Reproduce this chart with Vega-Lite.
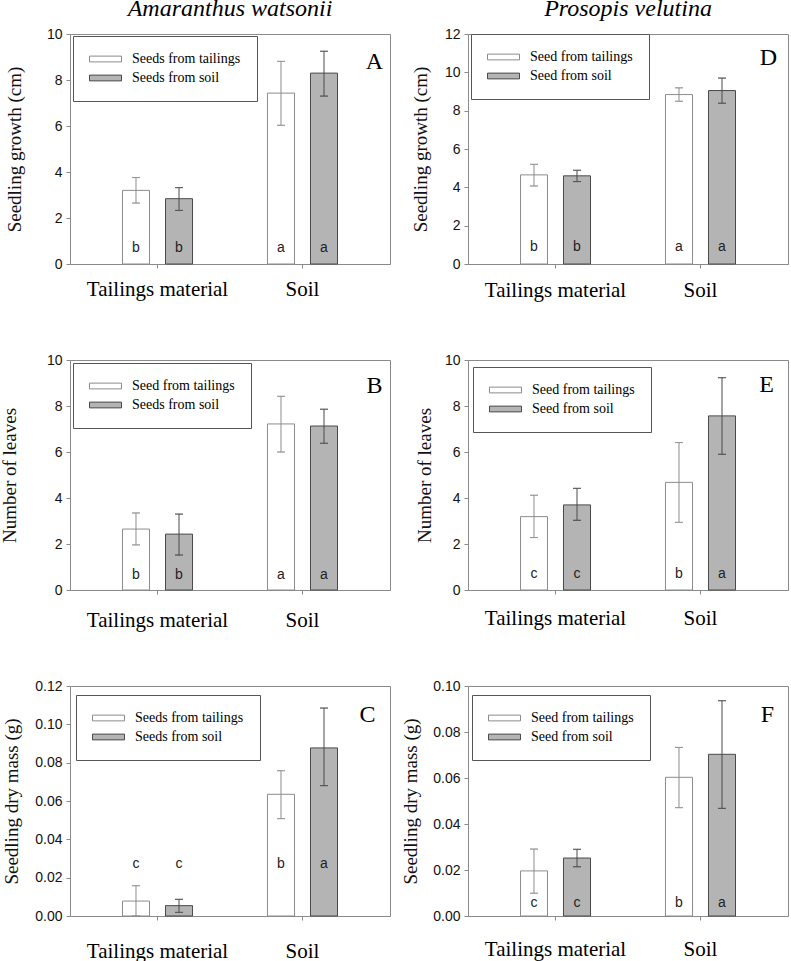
{
  "$schema": "https://vega.github.io/schema/vega-lite/v6.json",
  "background": "white",
  "padding": {"left": -1, "top": -4, "right": 0, "bottom": 0},
  "columns": 2,
  "spacing": {"row": 96, "column": 78},
  "bounds": "flush",
  "resolve": {
    "scale": {"x": "independent", "y": "independent", "xOffset": "independent", "fill": "independent", "stroke": "independent"},
    "legend": {"fill": "independent", "stroke": "independent"}
  },
  "config": {
    "view": {"stroke": "#8a8a8a", "strokeWidth": 1},
    "axis": {"domainColor": "#8a8a8a", "tickColor": "#8a8a8a", "tickSize": 4, "grid": false, "labelColor": "#111", "titleColor": "#111", "labelOverlap": false},
    "font": "Liberation Sans",
    "legend": {
      "orient": "none", "title": null, "strokeColor": "#555", "fillColor": "white", "padding": 16,
      "symbolType": "M-1,-0.18H1V0.18H-1Z", "symbolSize": 1024, "symbolStrokeColor": "#444", "symbolStrokeWidth": 1,
      "labelFont": "Liberation Serif", "labelFontSize": 14, "labelColor": "black", "labelOffset": 10, "rowPadding": 5, "labelLimit": 300, "clipHeight": 14
    }
  },
  "concat": [
    {
      "width": 320, "height": 230,
      "title": {"text": "Amaranthus watsonii", "font": "Liberation Serif", "fontStyle": "italic", "fontSize": 24, "fontWeight": "normal", "color": "black", "anchor": "middle", "frame": "group", "baseline": "alphabetic", "offset": -13},
      "data": {"values": [
        {"group": "Tailings material", "source": "Seeds from tailings", "mean": 3.20, "lo": 2.65, "hi": 3.76, "letter": "b"},
        {"group": "Tailings material", "source": "Seeds from soil", "mean": 2.84, "lo": 2.33, "hi": 3.32, "letter": "b"},
        {"group": "Soil", "source": "Seeds from tailings", "mean": 7.43, "lo": 6.03, "hi": 8.81, "letter": "a"},
        {"group": "Soil", "source": "Seeds from soil", "mean": 8.30, "lo": 7.30, "hi": 9.25, "letter": "a"}
      ]},
      "encoding": {
        "x": {"field": "group", "type": "nominal", "scale": {"domain": ["Tailings material", "Soil"], "paddingInner": 0.517, "paddingOuter": 0.362},
              "axis": {"title": null, "labelAngle": 0, "labelFont": "Liberation Serif", "labelFontSize": 21, "labelColor": "black", "labelBaseline": "alphabetic", "labelPadding": 27}}
      },
      "layer": [
        {"mark": {"type": "bar", "strokeWidth": 1},
         "encoding": {
           "xOffset": {"field": "source", "type": "nominal", "scale": {"domain": ["Seeds from tailings", "Seeds from soil"], "paddingInner": 0.372, "paddingOuter": 0}},
           "y": {"field": "mean", "type": "quantitative", "scale": {"domain": [0, 10], "nice": false},
                 "axis": {"title": "Seedling growth (cm)", "values": [0, 2, 4, 6, 8, 10], "tickCount": 20, "format": "d", "labelFont": "Liberation Sans", "labelFontSize": 14, "labelPadding": 4, "titleFont": "Liberation Serif", "titleFontSize": 19, "titleFontWeight": "normal", "titlePadding": 22}},
           "fill": {"field": "source", "type": "nominal", "scale": {"domain": ["Seeds from tailings", "Seeds from soil"], "range": ["white", "#b4b4b4"]}, "legend": {"legendX": 3, "legendY": 2}},
           "stroke": {"field": "source", "type": "nominal", "scale": {"domain": ["Seeds from tailings", "Seeds from soil"], "range": ["#8c8c8c", "#4a4a4a"]}, "legend": null}
         }},
        {"mark": {"type": "rule", "strokeWidth": 1},
         "encoding": {"xOffset": {"field": "source", "type": "nominal"}, "y": {"field": "lo", "type": "quantitative"}, "y2": {"field": "hi"}, "stroke": {"field": "source", "type": "nominal", "legend": null}}},
        {"mark": {"type": "tick", "filled": false, "thickness": 0, "size": 8, "strokeWidth": 1},
         "encoding": {"xOffset": {"field": "source", "type": "nominal"}, "y": {"field": "lo", "type": "quantitative"}, "stroke": {"field": "source", "type": "nominal", "legend": null}}},
        {"mark": {"type": "tick", "filled": false, "thickness": 0, "size": 8, "strokeWidth": 1},
         "encoding": {"xOffset": {"field": "source", "type": "nominal"}, "y": {"field": "hi", "type": "quantitative"}, "stroke": {"field": "source", "type": "nominal", "legend": null}}},
        {"mark": {"type": "text", "font": "Liberation Sans", "fontSize": 14, "color": "#222", "baseline": "alphabetic", "dy": -12},
         "encoding": {"xOffset": {"field": "source", "type": "nominal"}, "y": {"datum": 0}, "text": {"field": "letter"}}},
        {"data": {"values": [{"panel": "A"}]},
         "mark": {"type": "text", "font": "Liberation Serif", "fontSize": 24, "color": "black", "baseline": "alphabetic", "align": "center", "dx": 72},
         "encoding": {"x": {"datum": "Soil"}, "y": {"datum": 8.48}, "text": {"field": "panel"}}}
      ]
    },
    {
      "width": 320, "height": 230,
      "title": {"text": "Prosopis velutina", "font": "Liberation Serif", "fontStyle": "italic", "fontSize": 24, "fontWeight": "normal", "color": "black", "anchor": "middle", "frame": "group", "baseline": "alphabetic", "offset": -13},
      "data": {"values": [
        {"group": "Tailings material", "source": "Seed from tailings", "mean": 4.65, "lo": 4.07, "hi": 5.20, "letter": "b"},
        {"group": "Tailings material", "source": "Seed from soil", "mean": 4.60, "lo": 4.30, "hi": 4.89, "letter": "b"},
        {"group": "Soil", "source": "Seed from tailings", "mean": 8.84, "lo": 8.49, "hi": 9.19, "letter": "a"},
        {"group": "Soil", "source": "Seed from soil", "mean": 9.05, "lo": 8.39, "hi": 9.70, "letter": "a"}
      ]},
      "encoding": {
        "x": {"field": "group", "type": "nominal", "scale": {"domain": ["Tailings material", "Soil"], "paddingInner": 0.517, "paddingOuter": 0.362},
              "axis": {"title": null, "labelAngle": 0, "labelFont": "Liberation Serif", "labelFontSize": 21, "labelColor": "black", "labelBaseline": "alphabetic", "labelPadding": 28}}
      },
      "layer": [
        {"mark": {"type": "bar", "strokeWidth": 1},
         "encoding": {
           "xOffset": {"field": "source", "type": "nominal", "scale": {"domain": ["Seed from tailings", "Seed from soil"], "paddingInner": 0.372, "paddingOuter": 0}},
           "y": {"field": "mean", "type": "quantitative", "scale": {"domain": [0, 12], "nice": false},
                 "axis": {"title": "Seedling growth (cm)", "values": [0, 2, 4, 6, 8, 10, 12], "tickCount": 20, "format": "d", "labelFont": "Liberation Sans", "labelFontSize": 14, "labelPadding": 4, "titleFont": "Liberation Serif", "titleFontSize": 19, "titleFontWeight": "normal", "titlePadding": 14}},
           "fill": {"field": "source", "type": "nominal", "scale": {"domain": ["Seed from tailings", "Seed from soil"], "range": ["white", "#b4b4b4"]}, "legend": {"legendX": 3, "legendY": 0}},
           "stroke": {"field": "source", "type": "nominal", "scale": {"domain": ["Seed from tailings", "Seed from soil"], "range": ["#8c8c8c", "#4a4a4a"]}, "legend": null}
         }},
        {"mark": {"type": "rule", "strokeWidth": 1},
         "encoding": {"xOffset": {"field": "source", "type": "nominal"}, "y": {"field": "lo", "type": "quantitative"}, "y2": {"field": "hi"}, "stroke": {"field": "source", "type": "nominal", "legend": null}}},
        {"mark": {"type": "tick", "filled": false, "thickness": 0, "size": 8, "strokeWidth": 1},
         "encoding": {"xOffset": {"field": "source", "type": "nominal"}, "y": {"field": "lo", "type": "quantitative"}, "stroke": {"field": "source", "type": "nominal", "legend": null}}},
        {"mark": {"type": "tick", "filled": false, "thickness": 0, "size": 8, "strokeWidth": 1},
         "encoding": {"xOffset": {"field": "source", "type": "nominal"}, "y": {"field": "hi", "type": "quantitative"}, "stroke": {"field": "source", "type": "nominal", "legend": null}}},
        {"mark": {"type": "text", "font": "Liberation Sans", "fontSize": 14, "color": "#222", "baseline": "alphabetic", "dy": -13},
         "encoding": {"xOffset": {"field": "source", "type": "nominal"}, "y": {"datum": 0}, "text": {"field": "letter"}}},
        {"data": {"values": [{"panel": "D"}]},
         "mark": {"type": "text", "font": "Liberation Serif", "fontSize": 24, "color": "black", "baseline": "alphabetic", "align": "center", "dx": 68},
         "encoding": {"x": {"datum": "Soil"}, "y": {"datum": 10.38}, "text": {"field": "panel"}}}
      ]
    },
    {
      "width": 320, "height": 230,
      "data": {"values": [
        {"group": "Tailings material", "source": "Seed from tailings", "mean": 2.65, "lo": 1.96, "hi": 3.35, "letter": "b"},
        {"group": "Tailings material", "source": "Seeds from soil", "mean": 2.43, "lo": 1.52, "hi": 3.30, "letter": "b"},
        {"group": "Soil", "source": "Seed from tailings", "mean": 7.22, "lo": 6.00, "hi": 8.42, "letter": "a"},
        {"group": "Soil", "source": "Seeds from soil", "mean": 7.13, "lo": 6.38, "hi": 7.86, "letter": "a"}
      ]},
      "encoding": {
        "x": {"field": "group", "type": "nominal", "scale": {"domain": ["Tailings material", "Soil"], "paddingInner": 0.517, "paddingOuter": 0.362},
              "axis": {"title": null, "labelAngle": 0, "labelFont": "Liberation Serif", "labelFontSize": 21, "labelColor": "black", "labelBaseline": "alphabetic", "labelPadding": 32}}
      },
      "layer": [
        {"mark": {"type": "bar", "strokeWidth": 1},
         "encoding": {
           "xOffset": {"field": "source", "type": "nominal", "scale": {"domain": ["Seed from tailings", "Seeds from soil"], "paddingInner": 0.372, "paddingOuter": 0}},
           "y": {"field": "mean", "type": "quantitative", "scale": {"domain": [0, 10], "nice": false},
                 "axis": {"title": "Number of leaves", "values": [0, 2, 4, 6, 8, 10], "tickCount": 20, "format": "d", "labelFont": "Liberation Sans", "labelFontSize": 14, "labelPadding": 4, "titleFont": "Liberation Serif", "titleFontSize": 19, "titleFontWeight": "normal", "titlePadding": 27}},
           "fill": {"field": "source", "type": "nominal", "scale": {"domain": ["Seed from tailings", "Seeds from soil"], "range": ["white", "#b4b4b4"]}, "legend": {"legendX": 3, "legendY": 3}},
           "stroke": {"field": "source", "type": "nominal", "scale": {"domain": ["Seed from tailings", "Seeds from soil"], "range": ["#8c8c8c", "#4a4a4a"]}, "legend": null}
         }},
        {"mark": {"type": "rule", "strokeWidth": 1},
         "encoding": {"xOffset": {"field": "source", "type": "nominal"}, "y": {"field": "lo", "type": "quantitative"}, "y2": {"field": "hi"}, "stroke": {"field": "source", "type": "nominal", "legend": null}}},
        {"mark": {"type": "tick", "filled": false, "thickness": 0, "size": 8, "strokeWidth": 1},
         "encoding": {"xOffset": {"field": "source", "type": "nominal"}, "y": {"field": "lo", "type": "quantitative"}, "stroke": {"field": "source", "type": "nominal", "legend": null}}},
        {"mark": {"type": "tick", "filled": false, "thickness": 0, "size": 8, "strokeWidth": 1},
         "encoding": {"xOffset": {"field": "source", "type": "nominal"}, "y": {"field": "hi", "type": "quantitative"}, "stroke": {"field": "source", "type": "nominal", "legend": null}}},
        {"mark": {"type": "text", "font": "Liberation Sans", "fontSize": 14, "color": "#222", "baseline": "alphabetic", "dy": -11},
         "encoding": {"xOffset": {"field": "source", "type": "nominal"}, "y": {"datum": 0}, "text": {"field": "letter"}}},
        {"data": {"values": [{"panel": "B"}]},
         "mark": {"type": "text", "font": "Liberation Serif", "fontSize": 24, "color": "black", "baseline": "alphabetic", "align": "center", "dx": 72},
         "encoding": {"x": {"datum": "Soil"}, "y": {"datum": 8.57}, "text": {"field": "panel"}}}
      ]
    },
    {
      "width": 320, "height": 230,
      "data": {"values": [
        {"group": "Tailings material", "source": "Seed from tailings", "mean": 3.19, "lo": 2.28, "hi": 4.12, "letter": "c"},
        {"group": "Tailings material", "source": "Seed from soil", "mean": 3.70, "lo": 3.03, "hi": 4.42, "letter": "c"},
        {"group": "Soil", "source": "Seed from tailings", "mean": 4.68, "lo": 2.94, "hi": 6.41, "letter": "b"},
        {"group": "Soil", "source": "Seed from soil", "mean": 7.57, "lo": 5.90, "hi": 9.23, "letter": "a"}
      ]},
      "encoding": {
        "x": {"field": "group", "type": "nominal", "scale": {"domain": ["Tailings material", "Soil"], "paddingInner": 0.517, "paddingOuter": 0.362},
              "axis": {"title": null, "labelAngle": 0, "labelFont": "Liberation Serif", "labelFontSize": 21, "labelColor": "black", "labelBaseline": "alphabetic", "labelPadding": 30}}
      },
      "layer": [
        {"mark": {"type": "bar", "strokeWidth": 1},
         "encoding": {
           "xOffset": {"field": "source", "type": "nominal", "scale": {"domain": ["Seed from tailings", "Seed from soil"], "paddingInner": 0.372, "paddingOuter": 0}},
           "y": {"field": "mean", "type": "quantitative", "scale": {"domain": [0, 10], "nice": false},
                 "axis": {"title": "Number of leaves", "values": [0, 2, 4, 6, 8, 10], "tickCount": 20, "format": "d", "labelFont": "Liberation Sans", "labelFontSize": 14, "labelPadding": 4, "titleFont": "Liberation Serif", "titleFontSize": 19, "titleFontWeight": "normal", "titlePadding": 10}},
           "fill": {"field": "source", "type": "nominal", "scale": {"domain": ["Seed from tailings", "Seed from soil"], "range": ["white", "#b4b4b4"]}, "legend": {"legendX": 5, "legendY": 7}},
           "stroke": {"field": "source", "type": "nominal", "scale": {"domain": ["Seed from tailings", "Seed from soil"], "range": ["#8c8c8c", "#4a4a4a"]}, "legend": null}
         }},
        {"mark": {"type": "rule", "strokeWidth": 1},
         "encoding": {"xOffset": {"field": "source", "type": "nominal"}, "y": {"field": "lo", "type": "quantitative"}, "y2": {"field": "hi"}, "stroke": {"field": "source", "type": "nominal", "legend": null}}},
        {"mark": {"type": "tick", "filled": false, "thickness": 0, "size": 8, "strokeWidth": 1},
         "encoding": {"xOffset": {"field": "source", "type": "nominal"}, "y": {"field": "lo", "type": "quantitative"}, "stroke": {"field": "source", "type": "nominal", "legend": null}}},
        {"mark": {"type": "tick", "filled": false, "thickness": 0, "size": 8, "strokeWidth": 1},
         "encoding": {"xOffset": {"field": "source", "type": "nominal"}, "y": {"field": "hi", "type": "quantitative"}, "stroke": {"field": "source", "type": "nominal", "legend": null}}},
        {"mark": {"type": "text", "font": "Liberation Sans", "fontSize": 14, "color": "#222", "baseline": "alphabetic", "dy": -12},
         "encoding": {"xOffset": {"field": "source", "type": "nominal"}, "y": {"datum": 0}, "text": {"field": "letter"}}},
        {"data": {"values": [{"panel": "E"}]},
         "mark": {"type": "text", "font": "Liberation Serif", "fontSize": 24, "color": "black", "baseline": "alphabetic", "align": "center", "dx": 66},
         "encoding": {"x": {"datum": "Soil"}, "y": {"datum": 8.61}, "text": {"field": "panel"}}}
      ]
    },
    {
      "width": 320, "height": 230,
      "data": {"values": [
        {"group": "Tailings material", "source": "Seeds from tailings", "mean": 0.0078, "lo": 0.0, "hi": 0.0158, "letter": "c"},
        {"group": "Tailings material", "source": "Seeds from soil", "mean": 0.0054, "lo": 0.0019, "hi": 0.0087, "letter": "c"},
        {"group": "Soil", "source": "Seeds from tailings", "mean": 0.0635, "lo": 0.0508, "hi": 0.0758, "letter": "b"},
        {"group": "Soil", "source": "Seeds from soil", "mean": 0.0877, "lo": 0.0680, "hi": 0.1085, "letter": "a"}
      ]},
      "encoding": {
        "x": {"field": "group", "type": "nominal", "scale": {"domain": ["Tailings material", "Soil"], "paddingInner": 0.517, "paddingOuter": 0.362},
              "axis": {"title": null, "labelAngle": 0, "labelFont": "Liberation Serif", "labelFontSize": 21, "labelColor": "black", "labelBaseline": "alphabetic", "labelPadding": 37}}
      },
      "layer": [
        {"mark": {"type": "bar", "strokeWidth": 1},
         "encoding": {
           "xOffset": {"field": "source", "type": "nominal", "scale": {"domain": ["Seeds from tailings", "Seeds from soil"], "paddingInner": 0.372, "paddingOuter": 0}},
           "y": {"field": "mean", "type": "quantitative", "scale": {"domain": [0, 0.12], "nice": false},
                 "axis": {"title": "Seedling dry mass (g)", "values": [0, 0.02, 0.04, 0.06, 0.08, 0.10, 0.12], "tickCount": 20, "format": ".2f", "labelFont": "Liberation Sans", "labelFontSize": 14, "labelPadding": 4, "titleFont": "Liberation Serif", "titleFontSize": 19, "titleFontWeight": "normal", "titlePadding": 13}},
           "fill": {"field": "source", "type": "nominal", "scale": {"domain": ["Seeds from tailings", "Seeds from soil"], "range": ["white", "#b4b4b4"]}, "legend": {"legendX": 6, "legendY": 9}},
           "stroke": {"field": "source", "type": "nominal", "scale": {"domain": ["Seeds from tailings", "Seeds from soil"], "range": ["#8c8c8c", "#4a4a4a"]}, "legend": null}
         }},
        {"mark": {"type": "rule", "strokeWidth": 1},
         "encoding": {"xOffset": {"field": "source", "type": "nominal"}, "y": {"field": "lo", "type": "quantitative"}, "y2": {"field": "hi"}, "stroke": {"field": "source", "type": "nominal", "legend": null}}},
        {"mark": {"type": "tick", "filled": false, "thickness": 0, "size": 8, "strokeWidth": 1},
         "encoding": {"xOffset": {"field": "source", "type": "nominal"}, "y": {"field": "lo", "type": "quantitative"}, "stroke": {"field": "source", "type": "nominal", "legend": null}}},
        {"mark": {"type": "tick", "filled": false, "thickness": 0, "size": 8, "strokeWidth": 1},
         "encoding": {"xOffset": {"field": "source", "type": "nominal"}, "y": {"field": "hi", "type": "quantitative"}, "stroke": {"field": "source", "type": "nominal", "legend": null}}},
        {"mark": {"type": "text", "font": "Liberation Sans", "fontSize": 14, "color": "#222", "baseline": "alphabetic", "dy": -48},
         "encoding": {"xOffset": {"field": "source", "type": "nominal"}, "y": {"datum": 0}, "text": {"field": "letter"}}},
        {"data": {"values": [{"panel": "C"}]},
         "mark": {"type": "text", "font": "Liberation Serif", "fontSize": 24, "color": "black", "baseline": "alphabetic", "align": "center", "dx": 65},
         "encoding": {"x": {"datum": "Soil"}, "y": {"datum": 0.1012}, "text": {"field": "panel"}}}
      ]
    },
    {
      "width": 320, "height": 230,
      "data": {"values": [
        {"group": "Tailings material", "source": "Seed from tailings", "mean": 0.0196, "lo": 0.0099, "hi": 0.0291, "letter": "c"},
        {"group": "Tailings material", "source": "Seed from soil", "mean": 0.0252, "lo": 0.0214, "hi": 0.0290, "letter": "c"},
        {"group": "Soil", "source": "Seed from tailings", "mean": 0.0603, "lo": 0.0471, "hi": 0.0733, "letter": "b"},
        {"group": "Soil", "source": "Seed from soil", "mean": 0.0703, "lo": 0.0468, "hi": 0.0936, "letter": "a"}
      ]},
      "encoding": {
        "x": {"field": "group", "type": "nominal", "scale": {"domain": ["Tailings material", "Soil"], "paddingInner": 0.517, "paddingOuter": 0.362},
              "axis": {"title": null, "labelAngle": 0, "labelFont": "Liberation Serif", "labelFontSize": 21, "labelColor": "black", "labelBaseline": "alphabetic", "labelPadding": 35}}
      },
      "layer": [
        {"mark": {"type": "bar", "strokeWidth": 1},
         "encoding": {
           "xOffset": {"field": "source", "type": "nominal", "scale": {"domain": ["Seed from tailings", "Seed from soil"], "paddingInner": 0.372, "paddingOuter": 0}},
           "y": {"field": "mean", "type": "quantitative", "scale": {"domain": [0, 0.10], "nice": false},
                 "axis": {"title": "Seedling dry mass (g)", "values": [0, 0.02, 0.04, 0.06, 0.08, 0.10], "tickCount": 20, "format": ".2f", "labelFont": "Liberation Sans", "labelFontSize": 14, "labelPadding": 4, "titleFont": "Liberation Serif", "titleFontSize": 19, "titleFontWeight": "normal", "titlePadding": 12}},
           "fill": {"field": "source", "type": "nominal", "scale": {"domain": ["Seed from tailings", "Seed from soil"], "range": ["white", "#b4b4b4"]}, "legend": {"legendX": 4, "legendY": 9}},
           "stroke": {"field": "source", "type": "nominal", "scale": {"domain": ["Seed from tailings", "Seed from soil"], "range": ["#8c8c8c", "#4a4a4a"]}, "legend": null}
         }},
        {"mark": {"type": "rule", "strokeWidth": 1},
         "encoding": {"xOffset": {"field": "source", "type": "nominal"}, "y": {"field": "lo", "type": "quantitative"}, "y2": {"field": "hi"}, "stroke": {"field": "source", "type": "nominal", "legend": null}}},
        {"mark": {"type": "tick", "filled": false, "thickness": 0, "size": 8, "strokeWidth": 1},
         "encoding": {"xOffset": {"field": "source", "type": "nominal"}, "y": {"field": "lo", "type": "quantitative"}, "stroke": {"field": "source", "type": "nominal", "legend": null}}},
        {"mark": {"type": "tick", "filled": false, "thickness": 0, "size": 8, "strokeWidth": 1},
         "encoding": {"xOffset": {"field": "source", "type": "nominal"}, "y": {"field": "hi", "type": "quantitative"}, "stroke": {"field": "source", "type": "nominal", "legend": null}}},
        {"mark": {"type": "text", "font": "Liberation Sans", "fontSize": 14, "color": "#222", "baseline": "alphabetic", "dy": -9},
         "encoding": {"xOffset": {"field": "source", "type": "nominal"}, "y": {"datum": 0}, "text": {"field": "letter"}}},
        {"data": {"values": [{"panel": "F"}]},
         "mark": {"type": "text", "font": "Liberation Serif", "fontSize": 24, "color": "black", "baseline": "alphabetic", "align": "center", "dx": 67},
         "encoding": {"x": {"datum": "Soil"}, "y": {"datum": 0.0843}, "text": {"field": "panel"}}}
      ]
    }
  ]
}
